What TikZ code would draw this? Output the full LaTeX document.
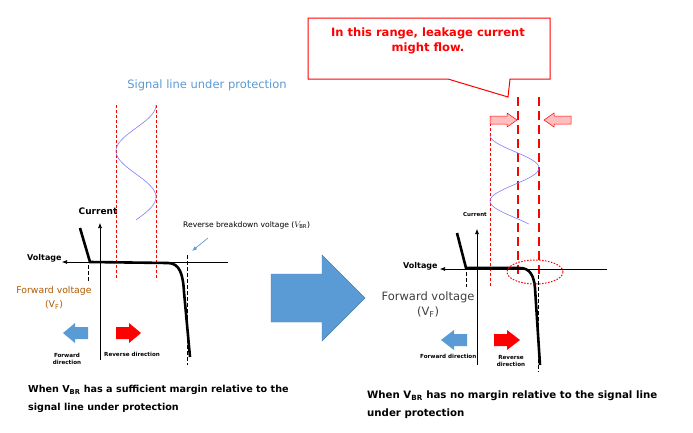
\documentclass[tikz,border=0pt]{standalone}
\usepackage{fontspec}
\setmainfont{DejaVu Sans}
\usetikzlibrary{shapes.geometric,arrows.meta}
\definecolor{bl}{HTML}{5B9BD5}
\begin{document}
\begin{tikzpicture}[x=1pt,y=-1pt,
 ax/.style={line width=0.6pt,-{Latex[length=5pt,width=4pt]}},
 curve/.style={line width=2.6pt},
 vd/.style={line width=1pt,dash pattern=on 4pt off 2pt},
 thindash/.style={red,line width=0.6pt,dash pattern=on 3pt off 2pt},
 thickdash/.style={red,line width=2.4pt,dash pattern=on 9pt off 5pt},
 sine/.style={blue!50,line width=0.6pt},
 lbl/.style={font=\bfseries\fontsize{8}{9}\selectfont,inner sep=0pt},
 tiny/.style={font=\bfseries\fontsize{5.6}{7}\selectfont,inner sep=0pt,align=center},
 captxt/.style={font=\bfseries\fontsize{9.6}{18}\selectfont,inner sep=0pt,align=left,anchor=north west}]
\useasboundingbox (0,0) rectangle (693,432);
\fill[white] (0,0) rectangle (693,432);
% ---- left panel
\node[text=bl,font=\fontsize{11.5}{13}\selectfont] (sig) at (207,85) {Signal line under protection};
\draw[thindash] (116,105) -- (116,280);
\draw[thindash] (156,105) -- (156,280);
\draw[sine,domain=0:1.25,samples=80] plot ({136+20*sin(360*\x+90)},{105+\x*92});
\coordinate (la0) at (100,360); \coordinate (la1) at (100,223);
\draw[ax] (la0) -- (la1);
\coordinate (lh0) at (228,262); \coordinate (lh1) at (62,262);
\draw[ax] (lh0) -- (lh1);
\node[lbl,font=\bfseries\fontsize{9}{10}\selectfont] (lcur) at (98,211) {Current};
\node[lbl,anchor=west] (lvol) at (27,258) {Voltage};
\draw[curve] (80,228) -- (90,262) -- (168,263) .. controls (180,263) and (183,275) .. (184,292) -- (190,357);
\draw[vd] (88,265) -- (88,281);
\draw[vd] (187,255) -- (187,365);
\node[font=\fontsize{7.6}{9}\selectfont,anchor=west,inner sep=0pt] (rbv) at (183,225) {Reverse breakdown voltage ($V_{\mathrm{BR}}$)};
\coordinate (rbt) at (192,251);
\draw[bl,-{Latex[length=5pt]},line width=0.7pt] (208,238) -- (rbt);
\node[text=orange!70!black,font=\fontsize{9.3}{14}\selectfont,align=center] (lvf) at (54,298) {Forward voltage\\(V\textsubscript{F})};
\fill[bl] (88,327) -- (75,327) -- (75,323) -- (63,333) -- (75,343) -- (75,339) -- (88,339) -- cycle;
\fill[red] (116,327) -- (129,327) -- (129,323) -- (141,333) -- (129,343) -- (129,339) -- (116,339) -- cycle;
\node[tiny] (lfd) at (67,359) {Forward\\direction};
\node[tiny,anchor=west] (lrd) at (104,354) {Reverse direction};
\node[captxt] (lcap) at (28,385) {When V\textsubscript{BR} has a sufficient margin relative to the\\signal line under protection};
% big arrow
\draw[fill=bl,draw=bl!80!black,line width=0.4pt] (271,274) -- (322,274) -- (322,255) -- (365,298) -- (322,341) -- (322,322) -- (271,322) -- cycle;
% ---- right panel
\draw[red,line width=1pt,fill=white] (308,18) -- (550,18) -- (550,79) -- (510,79) -- (508,97) -- (448,79) -- (308,79) -- cycle;
\node[text=red,font=\bfseries\fontsize{11.5}{15}\selectfont,align=center] (call) at (428,41) {In this range, leakage current\\might flow.};
\draw[thindash] (490,123) -- (490,287);
\draw[thickdash] (518,97) -- (518,275);
\draw[thickdash] (539,97) -- (539,275);
\draw[red,fill=pink,line width=0.5pt] (490,116) -- (507,116) -- (507,113) -- (517,120) -- (507,127) -- (507,124) -- (490,124) -- cycle;
\draw[red,fill=pink,line width=0.5pt] (571,116) -- (554,116) -- (554,113) -- (544,120) -- (554,127) -- (554,124) -- (571,124) -- cycle;
\draw[sine,domain=0:1.35,samples=80] plot ({514.5+24.5*sin(360*\x+90+180)},{135+\x*66});
\coordinate (ra0) at (477,365); \coordinate (ra1) at (477,229);
\draw[ax] (ra0) -- (ra1);
\coordinate (rh0) at (607,269); \coordinate (rh1) at (440,269);
\draw[ax] (rh0) -- (rh1);
\node[tiny,font=\bfseries\fontsize{5.5}{6}\selectfont] (rcur) at (475,214) {Current};
\node[lbl,anchor=west] (rvol) at (403,266) {Voltage};
\draw[curve] (457,233) -- (466,268) -- (520,268) .. controls (530,268) and (534,276) .. (535,288) -- (540,365);
\draw[vd] (466,272) -- (466,287);
\draw[vd] (538,275) -- (538,372);
\draw[red,line width=1pt,dash pattern=on 1.5pt off 1.5pt] (535,272) ellipse (28 and 12);
\node[text=black!75,font=\fontsize{11.5}{15}\selectfont,align=center] (rvf) at (428,305) {Forward voltage\\(V\textsubscript{F})};
\fill[bl] (467,334) -- (454,334) -- (454,330) -- (441,340) -- (454,350) -- (454,346) -- (467,346) -- cycle;
\fill[red] (494,334) -- (507,334) -- (507,330) -- (520,340) -- (507,350) -- (507,346) -- (494,346) -- cycle;
\node[tiny,anchor=west] (rfd) at (420,356) {Forward direction};
\node[tiny] (rrd) at (511,361) {Reverse\\direction};
\node[captxt,font=\bfseries\fontsize{10.2}{18}\selectfont] (rcap) at (367,391) {When V\textsubscript{BR} has no margin relative to the signal line\\under protection};
\end{tikzpicture}
\end{document}
